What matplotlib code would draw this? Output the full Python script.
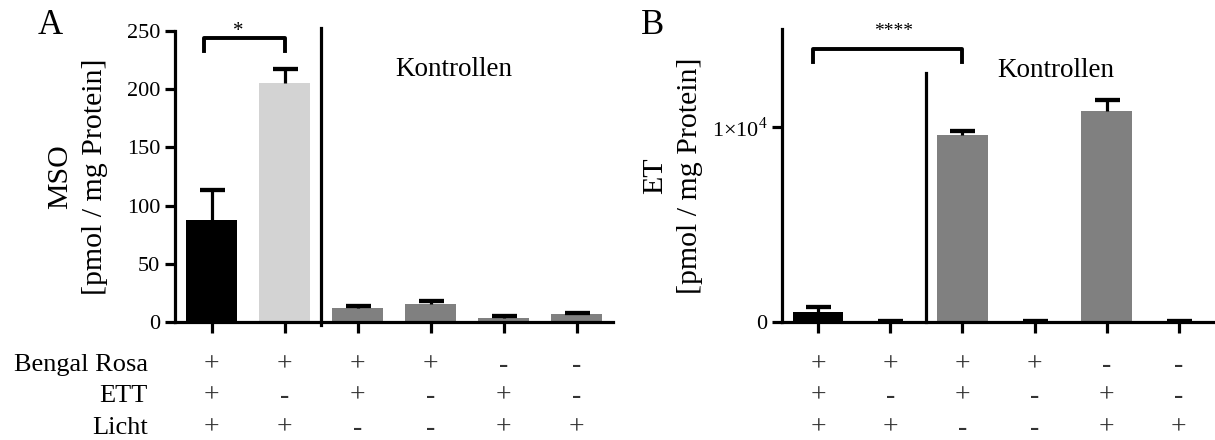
import matplotlib
matplotlib.use("Agg")
import matplotlib.pyplot as plt
import matplotlib.transforms as mtransforms
import numpy as np

plt.rcParams['font.family'] = ['Liberation Serif', 'DejaVu Serif']
plt.rcParams['mathtext.fontset'] = 'custom'
plt.rcParams['mathtext.rm'] = 'Liberation Serif'

# Werte Panel A (MSO)
mso_mittel = [87.5, 205, 12, 15.5, 3.7, 6.9]
mso_fehler = [26, 12, 1.8, 2.5, 1.5, 1.0]
mso_farben = ['#000000', '#d3d3d3', '#808080', '#808080', '#808080', '#808080']

# Werte Panel B (ET)
et_mittel = [530, 20, 9590, 20, 10820, 20]
et_fehler = [260, 10, 210, 10, 560, 10]
et_farben = ['#000000', '#d3d3d3', '#808080', '#808080', '#808080', '#808080']

# Versuchsbedingungen
zeilen = ['Bengal Rosa', 'ETT', 'Licht']
bengal_rosa = ['+', '+', '+', '+', '-', '-']
ett = ['+', '-', '+', '-', '+', '-']
licht = ['+', '+', '-', '-', '+', '+']

fig = plt.figure(figsize=(12.15, 4.40), dpi=100)
axA = fig.add_axes([175/1215, 1-322/440, 438/1215, 291/440])
axB = fig.add_axes([782/1215, 1-322/440, 433/1215, 292.5/440])

lw = 2.3
zeichen_y = [1-365/440, 1-396/440, 1-428/440]


def balken(ax, werte, fehler, farben):
    x = np.arange(len(werte))
    ax.bar(x, werte, width=0.7, color=farben, zorder=2)
    _, caps, _ = ax.errorbar(x, werte, yerr=[np.zeros(len(fehler)), fehler],
                             fmt='none', ecolor='black', elinewidth=lw,
                             capsize=9, capthick=lw + 0.8, zorder=3)
    # nur obere Fehlerbalken zeigen
    caps[0].set_visible(False)
    ax.set_xlim(-0.5, 5.5)
    ax.set_xticks(x)
    ax.set_xticklabels([])
    for s in ['top', 'right']:
        ax.spines[s].set_visible(False)
    for s in ['left', 'bottom']:
        ax.spines[s].set_linewidth(lw)
    ax.tick_params(axis='both', width=lw, length=7, labelsize=16, direction='out')
    ax.tick_params(axis='x', length=8)
    trans = mtransforms.blended_transform_factory(ax.transData, fig.transFigure)
    for reihe, yy in zip([bengal_rosa, ett, licht], zeichen_y):
        for i, z in enumerate(reihe):
            ax.text(i, yy, z, transform=trans, ha='center', va='center',
                    fontsize=20, color='#333333')


# Panel A
balken(axA, mso_mittel, mso_fehler, mso_farben)
axA.set_ylim(0, 250)
axA.set_yticks([0, 50, 100, 150, 200, 250])
axA.set_ylabel('MSO\n[pmol / mg Protein]', fontsize=21.5, linespacing=1.45)
axA.yaxis.set_label_coords(-0.153, 0.5)
axA.plot([1.5, 1.5], [-2.5, 253], color='black', lw=lw, clip_on=False)
axA.plot([-0.1, -0.1, 1.0, 1.0], [233, 244, 244, 233], color='black', lw=lw + 0.5,
         clip_on=False)
axA.text(0.37, 250, '*', ha='center', va='center', fontsize=15)
axA.text(3.32, 216.5, 'Kontrollen', ha='center', va='center', fontsize=19.5)
fig.text(50/1215, 1-26/440, 'A', ha='center', va='center', fontsize=25)

for name, yy in zip(zeilen, zeichen_y):
    fig.text(148/1215, yy, name, ha='right', va='center', fontsize=19)

# Panel B
balken(axB, et_mittel, et_fehler, et_farben)
axB.set_ylim(0, 15000)
axB.set_yticks([0, 10000])
axB.set_yticklabels(['0', r'1$\times$10$^{4}$'])
axB.set_ylabel('ET\n[pmol / mg Protein]', fontsize=21.5, linespacing=1.45)
axB.yaxis.set_label_coords(-0.183, 0.5)
axB.plot([1.5, 1.5], [0, 12770], color='black', lw=lw, clip_on=False)
axB.plot([-0.07, -0.07, 2.0, 2.0], [13330, 14000, 14000, 13330], color='black',
         lw=lw + 0.5, clip_on=False)
axB.text(1.05, 14900, '****', ha='center', va='center', fontsize=14)
axB.text(3.29, 12920, 'Kontrollen', ha='center', va='center', fontsize=19.5)
fig.text(653/1215, 1-26/440, 'B', ha='center', va='center', fontsize=25)

fig.savefig('out.png', dpi=100)
